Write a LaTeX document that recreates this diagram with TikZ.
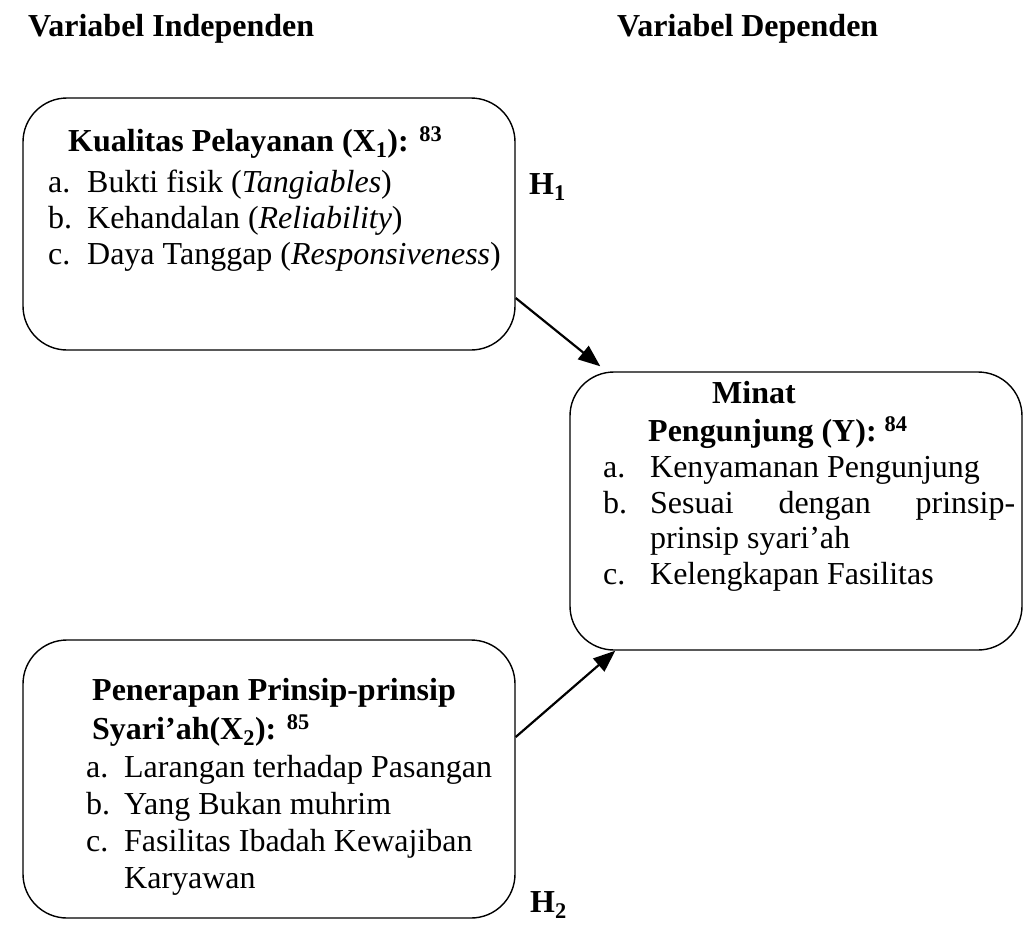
\documentclass[tikz,border=0pt]{standalone}
\usepackage{fontspec}
\setmainfont{Liberation Serif}
\usepackage{tikz}
\usetikzlibrary{arrows.meta}

\newcommand{\butir}[3][39pt]{\makebox[#1][l]{#2}#3}

\begin{document}
\begin{tikzpicture}[x=1pt, y=-1pt, every node/.style={font=\fontsize{32}{37}\selectfont},
	kotak/.style={draw, rounded corners=44pt, line width=1.4pt, inner sep=0pt},
	baris/.style={anchor=base west, inner sep=0pt},
	panah/.style={line width=2.2pt, -{Triangle[length=22pt,width=17pt]}}]
	\useasboundingbox (0,0) rectangle (1025,924);
	\node[baris] (judulx) at (28,36) {\textbf{Variabel Independen}};
	\node[baris] (juduly) at (617,36) {\textbf{Variabel Dependen}};
	% kotak X1
	\node[kotak, minimum width=492pt, minimum height=252pt] (kualitas) at (269,224) {};
	\node[baris] (k0) at (68,151) {\textbf{Kualitas Pelayanan (X\textsubscript{1}): \textsuperscript{83}}};
	\node[baris] (k1) at (48,192) {\butir{a.}{Bukti fisik (\textit{Tangiables})}};
	\node[baris] (k2) at (48,228) {\butir{b.}{Kehandalan (\textit{Reliability})}};
	\node[baris] (k3) at (48,264) {\butir{c.}{Daya Tanggap (\textit{Responsiveness})}};
	\node[baris] (h1) at (529,194) {\textbf{H\textsubscript{1}}};
	% kotak Y
	\node[kotak, minimum width=452pt, minimum height=278pt] (minat) at (796,511) {};
	\node[baris] (m0) at (712,403) {\textbf{Minat}};
	\node[baris] (m1) at (648,441) {\textbf{Pengunjung (Y): \textsuperscript{84}}};
	\node[baris] (m2) at (603,477) {\butir[47pt]{a.}{Kenyamanan Pengunjung}};
	\node[baris] (m3) at (603,513) {\makebox[47pt][l]{b.}\makebox[365pt][s]{Sesuai dengan prinsip-}};
	\node[baris] (m4) at (650,548) {prinsip syari'ah};
	\node[baris] (m5) at (603,584) {\butir[47pt]{c.}{Kelengkapan Fasilitas}};
	% kotak X2
	\node[kotak, minimum width=492pt, minimum height=278pt] (prinsip) at (269,779) {};
	\node[baris] (p0) at (92,700) {\textbf{Penerapan Prinsip-prinsip}};
	\node[baris] (p1) at (92,739) {\textbf{Syari'ah(X\textsubscript{2}): \textsuperscript{85}}};
	\node[baris] (p2) at (86,777) {\butir[38pt]{a.}{Larangan terhadap Pasangan}};
	\node[baris] (p3) at (86,814) {\butir[38pt]{b.}{Yang Bukan muhrim}};
	\node[baris] (p4) at (86,851) {\butir[38pt]{c.}{Fasilitas Ibadah Kewajiban}};
	\node[baris] (p5) at (124,888) {Karyawan};
	\node[baris] (h2) at (530,912) {\textbf{H\textsubscript{2}}};
	% panah
	\draw[panah] ([yshift=-74pt]kualitas.east) -- ([xshift=31pt,yshift=5pt]minat.north west);
	\draw[panah] ([yshift=42pt]prinsip.east) -- ([xshift=46pt]minat.south west);
\end{tikzpicture}
\end{document}
